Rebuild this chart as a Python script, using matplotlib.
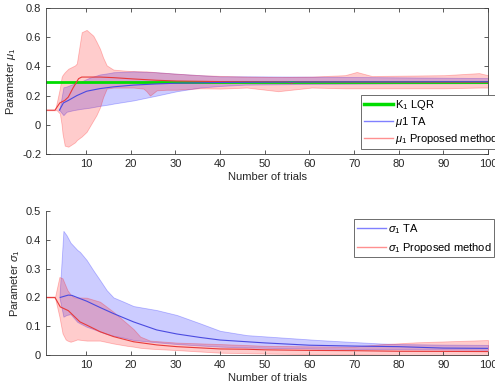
import matplotlib.pyplot as plt
from matplotlib.lines import Line2D

plt.rcParams['font.family'] = ['Liberation Sans', 'DejaVu Sans']
plt.rcParams['mathtext.fontset'] = 'custom'
plt.rcParams['mathtext.it'] = 'Liberation Sans:italic'
plt.rcParams['mathtext.rm'] = 'Liberation Sans'

# ---- top panel: mean parameter mu_1 ----
k1_lqr = 0.295
trials_all = [1, 100]

t_mu_ta = [4, 4.9, 6, 7.9, 10.1, 13.1, 16.1, 20.6, 25.8, 30.3, 40, 50, 60, 70, 80, 90, 100]
mu_ta = [0.10, 0.15, 0.167, 0.20, 0.23, 0.248, 0.26, 0.272, 0.28, 0.285, 0.29, 0.292, 0.293, 0.294, 0.294, 0.295, 0.295]

t_mu_ta_band = [4, 4.9, 5.6, 6, 7.1, 8.6, 10.8, 13.1, 15.3, 16.1, 20.6, 25.8, 30.3, 35.5, 40, 45.6, 60, 80, 100]
mu_ta_hi = [0.10, 0.257, 0.262, 0.267, 0.28, 0.293, 0.323, 0.345, 0.355, 0.36, 0.366, 0.36, 0.35, 0.34, 0.332, 0.332, 0.33, 0.325, 0.32]
mu_ta_lo = [0.10, 0.066, 0.089, 0.092, 0.10, 0.108, 0.117, 0.13, 0.14, 0.145, 0.167, 0.20, 0.23, 0.255, 0.266, 0.275, 0.28, 0.283, 0.285]

t_mu_pm = [1, 3, 4.1, 5.2, 6, 7.1, 8.3, 9, 13.1, 16.1, 20.6, 25.8, 30.3, 40, 55, 56, 57, 70, 100]
mu_pm = [0.10, 0.10, 0.15, 0.167, 0.19, 0.255, 0.316, 0.327, 0.327, 0.323, 0.314, 0.305, 0.30, 0.296, 0.294, 0.286, 0.294, 0.293, 0.292]

t_mu_pm_band = [1, 3, 3.4, 4.1, 4.5, 4.7, 5.2, 6, 7.5, 7.9, 9, 10.1, 11.6, 12.3, 13.1, 13.8, 14.6, 16.1,
                19.1, 20.6, 22.8, 23.5, 24.3, 25.8, 28, 30.3, 35.5, 40, 46, 53, 60.5, 68, 70.6, 74, 90.3, 98, 100]
mu_pm_hi = [0.10, 0.10, 0.15, 0.25, 0.327, 0.34, 0.36, 0.384, 0.407, 0.42, 0.634, 0.65, 0.61, 0.57, 0.52, 0.46, 0.407, 0.378,
            0.37, 0.368, 0.366, 0.366, 0.364, 0.36, 0.355, 0.35, 0.34, 0.335, 0.33, 0.327, 0.33, 0.34, 0.362, 0.334, 0.34, 0.354, 0.34]
mu_pm_lo = [0.10, 0.10, 0.10, 0.077, 0.0, -0.06, -0.143, -0.15, -0.12, -0.105, -0.08, -0.048, 0.03, 0.066, 0.12, 0.19, 0.248, 0.255,
            0.255, 0.255, 0.248, 0.23, 0.20, 0.236, 0.24, 0.24, 0.25, 0.248, 0.255, 0.23, 0.255, 0.25, 0.25, 0.25, 0.25, 0.255, 0.255]

# ---- bottom panel: std parameter sigma_1 ----
t_sig_ta = [4.2, 6, 6.8, 8.6, 10.1, 13.1, 16.1, 20.6, 25.8, 30.3, 35.5, 40, 46, 50, 60, 70, 80, 90, 100]
sig_ta = [0.20, 0.208, 0.207, 0.196, 0.187, 0.165, 0.144, 0.115, 0.087, 0.073, 0.061, 0.052, 0.046, 0.042, 0.034, 0.031, 0.029, 0.024, 0.023]

t_sig_ta_band = [4, 4.9, 5.6, 6.5, 8, 8.6, 10.1, 11.6, 13.1, 14.6, 16.1, 18.4, 20.6, 25.8, 30.3, 35.5, 40, 46, 62, 70, 76, 80, 90, 100]
sig_ta_hi = [0.20, 0.431, 0.416, 0.39, 0.365, 0.358, 0.33, 0.294, 0.26, 0.225, 0.20, 0.185, 0.17, 0.156, 0.139, 0.11, 0.084, 0.069, 0.052, 0.045, 0.040, 0.038, 0.036, 0.035]
sig_ta_lo = [0.20, 0.133, 0.139, 0.142, 0.115, 0.11, 0.098, 0.09, 0.081, 0.073, 0.067, 0.06, 0.052, 0.044, 0.038, 0.033, 0.029, 0.026, 0.022, 0.021, 0.02, 0.02, 0.019, 0.018]

t_sig_pm = [1, 3, 4.2, 4.9, 6, 6.8, 8.6, 10.1, 13.1, 16.1, 20.6, 25.8, 30.3, 40, 46, 50, 60, 70, 80, 100]
sig_pm = [0.20, 0.20, 0.167, 0.162, 0.154, 0.142, 0.115, 0.104, 0.081, 0.064, 0.046, 0.035, 0.029, 0.021, 0.02, 0.018, 0.016, 0.015, 0.013, 0.012]

t_sig_pm_band = [1, 3, 4, 4.7, 5.4, 5.8, 6.5, 7.3, 8, 10.1, 13.1, 16.1, 19.1, 20.6, 22.1, 24.3, 30.3, 40, 50, 60, 69.8, 75.8, 83.9, 100]
sig_pm_hi = [0.20, 0.20, 0.271, 0.266, 0.24, 0.225, 0.21, 0.20, 0.20, 0.199, 0.185, 0.15, 0.11, 0.09, 0.064, 0.05, 0.043, 0.038, 0.032, 0.03, 0.029, 0.037, 0.044, 0.052]
sig_pm_lo = [0.20, 0.20, 0.133, 0.075, 0.054, 0.05, 0.046, 0.05, 0.054, 0.05, 0.05, 0.04, 0.032, 0.029, 0.025, 0.022, 0.017, 0.008, 0.005, 0.003, 0.002, 0.001, 0.0, 0.0]

BLUE_FILL = (0.0, 0.0, 1.0, 0.2)
RED_FILL = (1.0, 0.0, 0.0, 0.2)
BLUE_EDGE = (0.0, 0.0, 1.0, 0.25)
RED_EDGE = (1.0, 0.0, 0.0, 0.25)
BLUE_LINE = '#4a4ae0'
RED_LINE = '#e83a3a'
AX_COL = '#404040'


def style_axes(ax, box):
    for side in ['left', 'bottom', 'top', 'right']:
        ax.spines[side].set_color(AX_COL)
        ax.spines[side].set_linewidth(0.6)
    ax.spines['top'].set_visible(box)
    ax.spines['right'].set_visible(box)
    ax.tick_params(direction='in', length=3, width=0.6, colors=AX_COL,
                   labelsize=8, labelcolor='#262626',
                   top=box, right=box)
    ax.set_xlim(1, 100)
    ax.set_xticks(range(10, 101, 10))
    ax.set_xlabel('Number of trials', fontsize=8, color='#262626', labelpad=2)


def add_legend(handles, labels, x0, y0, pad, spacing):
    leg = fig.legend(handles, labels, loc='upper left',
                     bbox_to_anchor=(x0 / 495, 1 - y0 / 388),
                     fontsize=8, frameon=True, fancybox=False, framealpha=1,
                     edgecolor='#555555', handlelength=2.6, handletextpad=0.2,
                     borderpad=pad, labelspacing=spacing, borderaxespad=0)
    leg.get_frame().set_linewidth(0.6)
    return leg


fig = plt.figure(figsize=(4.95, 3.88), dpi=100)

ax1 = fig.add_axes([46 / 495, 1 - 154 / 388, 442 / 495, 146 / 388])
ax1.fill_between(t_mu_ta_band, mu_ta_lo, mu_ta_hi, facecolor=BLUE_FILL, edgecolor=BLUE_EDGE, lw=0.6)
ax1.fill_between(t_mu_pm_band, mu_pm_lo, mu_pm_hi, facecolor=RED_FILL, edgecolor=RED_EDGE, lw=0.6)
ax1.plot(trials_all, [k1_lqr, k1_lqr], color='#00dd00', lw=2)
ax1.plot(t_mu_pm, mu_pm, color=RED_LINE, lw=0.8)
ax1.plot(t_mu_ta, mu_ta, color=BLUE_LINE, lw=0.8)
ax1.set_ylim(-0.2, 0.8)
ax1.set_yticks([-0.2, 0, 0.2, 0.4, 0.6, 0.8])
ax1.set_yticklabels(['-0.2', '0', '0.2', '0.4', '0.6', '0.8'])
ax1.set_ylabel(r'Parameter $\mu_1$', fontsize=8, color='#262626', labelpad=3)
style_axes(ax1, True)

h1 = [Line2D([], [], color='#00dd00', lw=2.5),
      Line2D([], [], color='#8080ff', lw=1),
      Line2D([], [], color='#ff9090', lw=1)]
add_legend(h1, [r'K$_1$ LQR', r'$\mu$1 TA', r'$\mu_1$ Proposed method'], 361, 95, 0.3, 0.25)

ax2 = fig.add_axes([46 / 495, 1 - 355 / 388, 442 / 495, 144 / 388])
ax2.fill_between(t_sig_ta_band, sig_ta_lo, sig_ta_hi, facecolor=BLUE_FILL, edgecolor=BLUE_EDGE, lw=0.6)
ax2.fill_between(t_sig_pm_band, sig_pm_lo, sig_pm_hi, facecolor=RED_FILL, edgecolor=RED_EDGE, lw=0.6)
ax2.plot(t_sig_ta, sig_ta, color=BLUE_LINE, lw=0.8)
ax2.plot(t_sig_pm, sig_pm, color=RED_LINE, lw=0.8)
ax2.set_ylim(0, 0.5)
ax2.set_yticks([0, 0.1, 0.2, 0.3, 0.4, 0.5])
ax2.set_yticklabels(['0', '0.1', '0.2', '0.3', '0.4', '0.5'])
ax2.set_ylabel(r'Parameter $\sigma_1$', fontsize=8, color='#262626', labelpad=3)
style_axes(ax2, False)

h2 = [Line2D([], [], color='#8080ff', lw=1),
      Line2D([], [], color='#ff9090', lw=1)]
add_legend(h2, [r'$\sigma_1$ TA', r'$\sigma_1$ Proposed method'], 354, 219, 0.25, 0.45)

fig.savefig('out.png', dpi=100)
